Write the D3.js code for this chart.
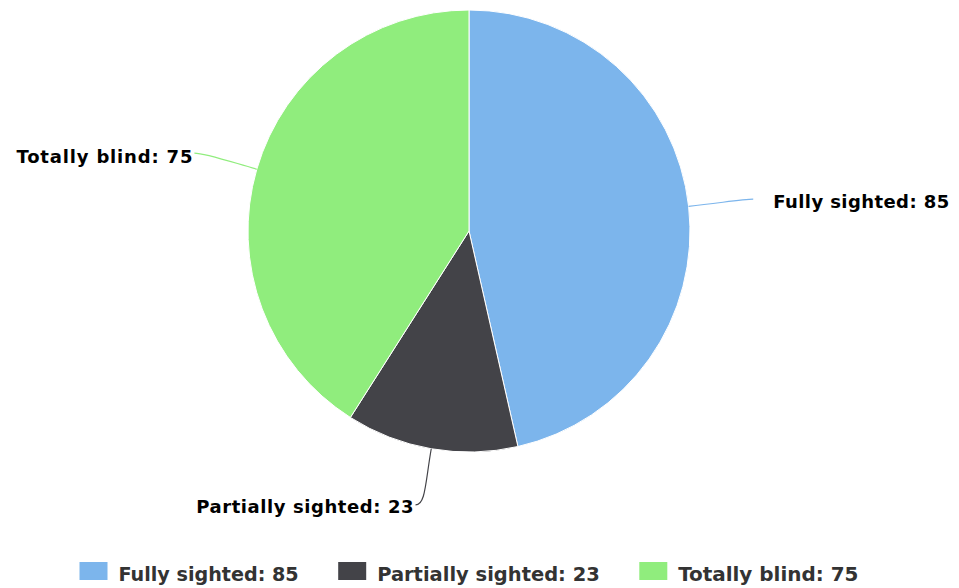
<!DOCTYPE html>
<html>
<head>
<meta charset="utf-8">
<script src="https://cdn.jsdelivr.net/npm/d3@7"></script>
<style>
  html, body { margin: 0; padding: 0; background: #ffffff; }
  svg { display: block; }
</style>
</head>
<body>
<svg id="chart" width="959" height="588"></svg>
<script>
// Vision status counts
const categories = ["Fully sighted", "Partially sighted", "Totally blind"];
const values = [85, 23, 75];
const colors = ["#7cb5ec", "#434348", "#90ed7d"];

const width = 959, height = 588;
const cx = 469, cy = 231, radius = 221;

const svg = d3.select("#chart");

const data = categories.map((name, i) => ({ name, value: values[i], color: colors[i] }));

const pie = d3.pie().sort(null).value(d => d.value);
const arcs = pie(data);

const arc = d3.arc().innerRadius(0).outerRadius(radius);

const g = svg.append("g").attr("transform", `translate(${cx},${cy})`);

// Slices
g.selectAll("path.slice")
  .data(arcs)
  .enter().append("path")
  .attr("class", "slice")
  .attr("d", arc)
  .attr("fill", d => d.data.color)
  .attr("stroke", "#ffffff")
  .attr("stroke-width", 1)
  .attr("stroke-linejoin", "round");

// Data labels with soft connectors
const polar = (a, r) => [r * Math.sin(a), -r * Math.cos(a)];
const labelRadius = [286, 278, 286];
const labelNudge = [[0, 0], [-6, 0], [0, 2]];

arcs.forEach((d, i) => {
  const mid = (d.startAngle + d.endAngle) / 2;
  const edge = polar(mid, radius);
  const end0 = polar(mid, labelRadius[i]);
  const end = [end0[0] + labelNudge[i][0], end0[1] + labelNudge[i][1]];
  const right = end[0] > 0;
  const c1 = polar(mid, radius + 35);
  const c2 = [end[0] + (right ? -10 : 10), end[1]];

  const p = d3.path();
  p.moveTo(edge[0], edge[1]);
  p.bezierCurveTo(c1[0], c1[1], c2[0], c2[1], end[0], end[1]);
  g.append("path")
    .attr("d", p.toString())
    .attr("fill", "none")
    .attr("stroke", d.data.color)
    .attr("stroke-width", 1.2);

  const txt = `${d.data.name}: ${d.data.value}`;
  const t = g.append("text")
    .attr("x", right ? end[0] + 20 : end[0] - 2)
    .attr("y", end[1] + (right ? 9 : (i === 1 ? 8 : 10)))
    .attr("text-anchor", right ? "start" : "end")
    .attr("font-family", "'DejaVu Sans', sans-serif")
    .attr("font-weight", "bold")
    .attr("font-size", 18)
    .attr("fill", "#000000")
    .text(txt);
  // widen letter spacing to the label's drawn width
  const want = txt.length * 10.35;
  t.attr("textLength", want).attr("lengthAdjust", "spacing");
});

// Legend
const legendY = 571;
const sqW = 28, sqH = 18, sqGap = 11, itemGap = 39.5, charW = 10.6;
const items = data.map(d => {
  const label = `${d.name}: ${d.value}`;
  return { d, label, tw: label.length * charW };
});
const totalW = d3.sum(items, it => sqW + sqGap + it.tw) + itemGap * (items.length - 1);
let x = cx - totalW / 2;
const legend = svg.append("g");
items.forEach(it => {
  legend.append("rect")
    .attr("x", x).attr("y", legendY - sqH / 2)
    .attr("width", sqW).attr("height", sqH)
    .attr("fill", it.d.color);
  legend.append("text")
    .attr("x", x + sqW + sqGap)
    .attr("y", legendY + 10)
    .attr("font-family", "'DejaVu Sans Condensed', 'DejaVu Sans', sans-serif")
    .attr("font-stretch", "condensed")
    .attr("font-weight", "bold")
    .attr("font-size", 20)
    .attr("fill", "#333333")
    .attr("textLength", it.tw)
    .attr("lengthAdjust", "spacingAndGlyphs")
    .text(it.label);
  x += sqW + sqGap + it.tw + itemGap;
});
</script>
</body>
</html>
